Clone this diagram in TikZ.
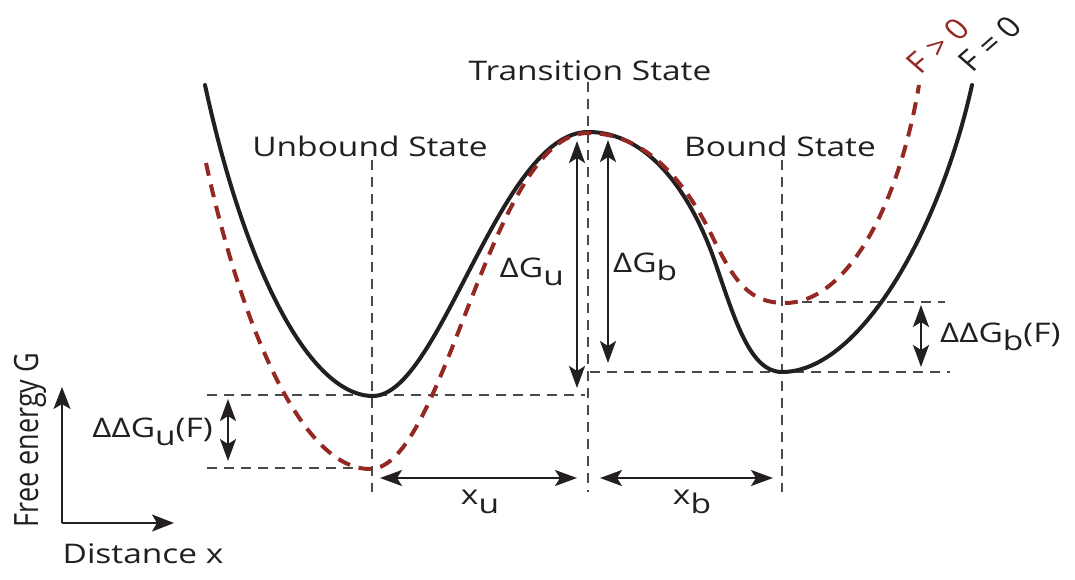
\documentclass[tikz,border=0pt]{standalone}
\usepackage{fontspec}
\setmainfont{Open Sans}
\usetikzlibrary{arrows.meta}
\definecolor{ink}{HTML}{231F20}
\definecolor{fred}{RGB}{150,40,35}
\definecolor{guide}{HTML}{4A4A4A}
\newcommand\sbs[1]{\raisebox{-0.32em}{#1}}
\newcommand\wtxt[1]{\scalebox{1.24}[1]{#1}}
\tikzset{
  lbl/.style={text=ink, inner sep=0pt, font=\fontsize{27}{31}\selectfont},
  rotlbl/.style={lbl, font=\fontsize{29}{33}\selectfont},
  guideline/.style={guide, line width=1.3pt, dash pattern=on 10pt off 7pt},
  curveF0/.style={ink, line width=4pt, line cap=round},
  curveF/.style={fred, line width=4pt, dash pattern=on 13pt off 9pt},
  dimarrow/.style={ink, line width=2pt, {Stealth[length=22pt,width=16pt,inset=5pt]}-{Stealth[length=22pt,width=16pt,inset=5pt]}},
  axisarrow/.style={ink, line width=2pt, -{Stealth[length=22pt,width=17pt,inset=5pt]}},
}
\begin{document}
\begin{tikzpicture}[x=1pt,y=-1pt]
\useasboundingbox (0,0) rectangle (1075,580);

% guide lines
\coordinate (vu1) at (372,160); \coordinate (vu2) at (372,492);
\coordinate (vt1) at (588,82);  \coordinate (vt2) at (588,492);
\coordinate (vb1) at (782,160); \coordinate (vb2) at (782,492);
\coordinate (hu1) at (207,395); \coordinate (hu2) at (585,395);
\coordinate (hf1) at (207,468); \coordinate (hf2) at (372,468);
\coordinate (hb1) at (785,302); \coordinate (hb2) at (945,302);
\coordinate (hg1) at (590,372); \coordinate (hg2) at (950,372);
\draw[guideline] (vu1) -- (vu2);
\draw[guideline] (vt1) -- (vt2);
\draw[guideline] (vb1) -- (vb2);
\draw[guideline] (hu1) -- (hu2);
\draw[guideline] (hf1) -- (hf2);
\draw[guideline] (hb1) -- (hb2);
\draw[guideline] (hg1) -- (hg2);

% F = 0 curve
\coordinate (k0) at (205,85);
\coordinate (k1) at (373,396);
\coordinate (k2) at (588,132);
\coordinate (k3) at (715,262);
\coordinate (k4) at (782,372);
\coordinate (k5) at (972,85);
\draw[curveF0] (k0) .. controls (245,270) and (310,396) .. (k1)
  .. controls (440,396) and (500,132) .. (k2)
  .. controls (660,132) and (700,218) .. (k3)
  .. controls (735,320) and (750,372) .. (k4)
  .. controls (860,372) and (940,230) .. (k5);

% F > 0 curve
\coordinate (r0) at (206,163);
\coordinate (r1) at (370,469);
\coordinate (r2) at (588,133);
\coordinate (r3) at (713,238);
\coordinate (r4) at (785,303);
\coordinate (r5) at (919,85);
\draw[curveF] (r0) .. controls (240,320) and (300,469) .. (r1)
  .. controls (445,469) and (490,133) .. (r2)
  .. controls (650,133) and (690,190) .. (r3)
  .. controls (735,283) and (750,303) .. (r4)
  .. controls (845,303) and (898,210) .. (r5);

% dimension arrows
\coordinate (gut) at (577,141); \coordinate (gub) at (577,388);
\coordinate (gbt) at (608,140); \coordinate (gbb) at (608,363);
\coordinate (ddut) at (228,399); \coordinate (ddub) at (228,461);
\coordinate (ddbt) at (921,305); \coordinate (ddbb) at (921,367);
\coordinate (xul) at (380,478); \coordinate (xur) at (577,478);
\coordinate (xbl) at (600,478); \coordinate (xbr) at (773,478);
\draw[dimarrow] (gut) -- (gub);
\draw[dimarrow] (gbt) -- (gbb);
\draw[dimarrow] (ddut) -- (ddub);
\draw[dimarrow] (ddbt) -- (ddbb);
\draw[dimarrow] (xul) -- (xur);
\draw[dimarrow] (xbl) -- (xbr);

% axes
\coordinate (O) at (62,523); \coordinate (Y) at (62,387); \coordinate (X) at (174,523);
\draw[axisarrow] (O) -- (Y);
\draw[axisarrow] (O) -- (X);

% labels
\node[lbl] (ts) at (590,71) {\wtxt{Transition State}};
\node[lbl] (us) at (370,146) {\wtxt{Unbound State}};
\node[lbl] (bs) at (780,146) {\wtxt{Bound State}};
\node[lbl, anchor=east] (ldgu) at (564,272) {\wtxt{ΔG\sbs{u}}};
\node[lbl, anchor=west] (ldgb) at (613,267) {\wtxt{ΔG\sbs{b}}};
\node[lbl, anchor=east] (lddu) at (213,432) {\wtxt{ΔΔG\sbs{u}(F)}};
\node[lbl, anchor=west] (lddb) at (940,337) {\wtxt{ΔΔG\sbs{b}(F)}};
\node[lbl] (lxu) at (480,502) {\wtxt{x\sbs{u}}};
\node[lbl] (lxb) at (692,502) {\wtxt{x\sbs{b}}};
\node[lbl] (lyax) at (30,440) {\scalebox{1.24}[1]{\rotatebox{90}{Free energy G}}};
\node[lbl] (lxax) at (143,554) {\wtxt{Distance x}};
\node[rotlbl, text=fred] (lfp) at (938,46) {\scalebox{1.15}[1]{\rotatebox{45}{F > 0}}};
\node[rotlbl] (lfz) at (990,44) {\scalebox{1.15}[1]{\rotatebox{45}{F = 0}}};
\end{tikzpicture}
\end{document}
